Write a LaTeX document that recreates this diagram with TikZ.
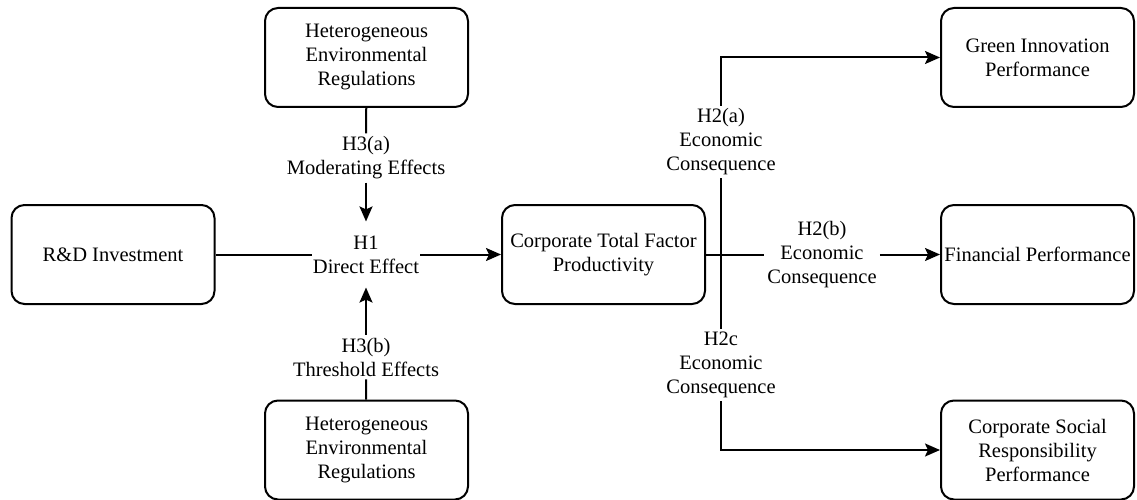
\documentclass[tikz,border=0pt]{standalone}
\usepackage{fontspec}
\setmainfont{Liberation Serif}
\newfontfamily\diagfont{Liberation Serif}
\usetikzlibrary{arrows.meta}
\tikzset{
  varbox/.style={draw, line width=2pt, rounded corners=13pt,
    minimum width=203pt, minimum height=99pt, align=center, inner sep=2pt},
  hyplabel/.style={align=center, inner sep=3pt},
  link/.style={line width=2pt},
  arrowlink/.style={link, -{Stealth[length=15pt,width=13pt,inset=3pt]}}
}
\begin{document}
\begin{tikzpicture}[x=1pt,y=-1pt,font=\diagfont\fontsize{20.5}{24}\selectfont]
    \useasboundingbox (0,0) rectangle (1137,500);
    % left part
    \node[varbox] (regtop) at (366.5,57.5) {Heterogeneous\\Environmental\\Regulations};
    \node[varbox] (rd) at (113,254.5) {R\&D Investment};
    \node[varbox] (regbot) at (366.5,450) {Heterogeneous\\Environmental\\Regulations};
    \node[varbox] (tfp) at (603.5,254.5) {Corporate Total Factor\\Productivity};
    \node[hyplabel, inner xsep=1pt, inner ysep=14pt] (h1) at (366,254.5) {H1\\Direct Effect};
    \node[hyplabel] (h3a) at (366,158) {H3(a)\\Moderating Effects};
    \node[hyplabel] (h3b) at (366,357) {H3(b)\\Threshold Effects};
    % right part
    \foreach \y/\name/\lab in {57.5/green/{Green Innovation\\Performance},
        254.5/fin/{Financial Performance},
        450/csr/{Corporate Social\\Responsibility\\Performance}}
    {
      \node[varbox, minimum width=193pt] (\name) at (1037.5,\y) {\lab};
    }
    \node[hyplabel] (h2a) at (721,142) {H2(a)\\Economic\\Consequence};
    \node[hyplabel] (h2b) at (822,254.5) {H2(b)\\Economic\\Consequence};
    \node[hyplabel] (h2c) at (721,365) {H2c\\Economic\\Consequence};

    \draw[link] (rd) -- (h1);
    \draw[arrowlink] (h1) -- (tfp);
    \draw[link] (regtop) -- (h3a);
    \draw[arrowlink] (h3a) -- (h1);
    \draw[link] (regbot) -- (h3b);
    \draw[arrowlink] (h3b) -- (h1);

    \draw[link] (tfp) -- (h2b);
    \draw[arrowlink] (h2b) -- (fin);
    \draw[arrowlink] (h2a) |- (green);
    \draw[link] (h2a) -- (h2c);
    \draw[arrowlink] (h2c) |- (csr);
\end{tikzpicture}
\end{document}
